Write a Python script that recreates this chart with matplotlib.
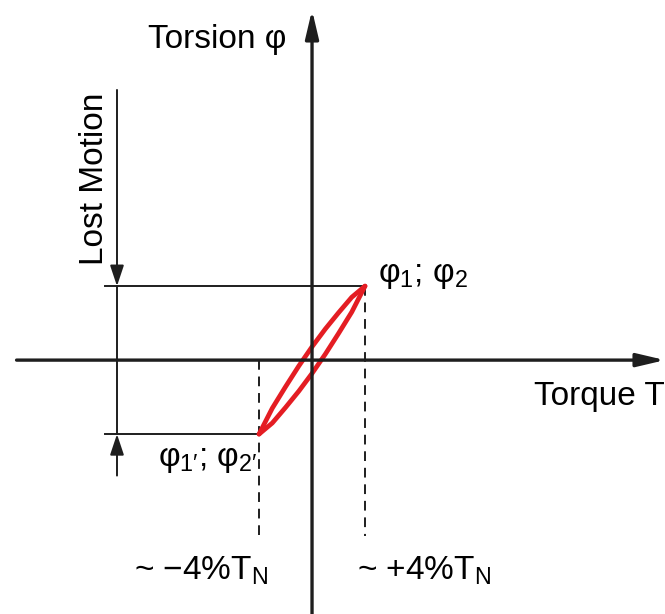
import matplotlib
matplotlib.use("Agg")
import matplotlib.pyplot as plt

plt.rcParams['font.family'] = ['Liberation Sans', 'DejaVu Sans']
plt.rcParams['mathtext.fontset'] = 'custom'
plt.rcParams['mathtext.rm'] = 'Liberation Sans'
plt.rcParams['mathtext.it'] = 'Liberation Sans'
plt.rcParams['mathtext.default'] = 'regular'

# hysteresis loop: torque in % of T_N, torsion in units of phi_1
torque = [-4, -3, -2, -1, 0, 1, 2, 3, 4]
torsion_up = [-1.0, -0.65, -0.36, -0.08, 0.18, 0.42, 0.64, 0.85, 1.0]
torsion_down = [-1.0, -0.85, -0.64, -0.42, -0.18, 0.08, 0.36, 0.65, 1.0]

t_limit = 4        # +-4 % T_N
phi_1 = 1.0        # phi_1; phi_2
phi_1p = -1.0      # phi_1'; phi_2'

ink = '#1e1e1e'
red = '#e41d23'

fig = plt.figure(figsize=(6.65, 6.14), dpi=100)
ax = fig.add_axes([0, 0, 1, 1])
ax.set_xlim(-23.55, 26.64)
ax.set_ylim(-3.43, 4.865)
ax.axis('off')

big_head = '-|>,head_length=0.85,head_width=0.2'
small_head = '-|>,head_length=0.9,head_width=0.3'

# coordinate axes with arrow heads
ax.annotate('', xy=(26.64, 0), xytext=(-22.3, 0),
            arrowprops=dict(arrowstyle=big_head, lw=2.4, color=ink,
                            shrinkA=0, shrinkB=0, mutation_scale=20))
ax.annotate('', xy=(0, 4.73), xytext=(0, -3.5),
            arrowprops=dict(arrowstyle=big_head, lw=2.4, color=ink,
                            shrinkA=0, shrinkB=0, mutation_scale=20))

# extension lines to the loop end points
x_dim = -14.72
ax.plot([-15.6, t_limit], [phi_1, phi_1], color=ink, lw=1.4)
ax.plot([-15.6, -t_limit], [phi_1p, phi_1p], color=ink, lw=1.4)

# lost motion dimension
ax.plot([x_dim, x_dim], [phi_1, phi_1p], color=ink, lw=1.4)
ax.annotate('', xy=(x_dim, phi_1), xytext=(x_dim, 3.65),
            arrowprops=dict(arrowstyle=small_head, lw=1.4, color=ink,
                            shrinkA=0, shrinkB=0, mutation_scale=14))
ax.annotate('', xy=(x_dim, phi_1p), xytext=(x_dim, -1.56),
            arrowprops=dict(arrowstyle=small_head, lw=1.4, color=ink,
                            shrinkA=0, shrinkB=0, mutation_scale=14))

# dashed drop lines at +-4 % T_N
ax.plot([t_limit, t_limit], [phi_1, -2.37], color=ink, lw=1.4,
        dashes=(5, 3.5))
ax.plot([-t_limit, -t_limit], [0, -2.37], color=ink, lw=1.4,
        dashes=(5, 3.5))

# loop
ax.plot(torque, torsion_up, color=red, lw=3.4, solid_joinstyle='round',
        solid_capstyle='round')
ax.plot(torque, torsion_down, color=red, lw=3.4, solid_joinstyle='round',
        solid_capstyle='round')

fs = 24
ax.text(-12.4, 4.21, 'Torsion φ', fontsize=fs, ha='left', va='baseline',
        color='black')
ax.text(26.6, -0.6, 'Torque T', fontsize=fs, ha='right', va='baseline',
        color='black')
ax.text(-16.4, 2.45, 'Lost Motion', fontsize=fs, rotation=90, ha='center',
        va='center', color='black')
ax.text(5.0, 1.06, 'φ$_{1}$; φ$_{2}$', fontsize=fs, ha='left',
        va='baseline', color='black')
ax.text(-11.6, -1.43, 'φ$_{1\u2032}$; φ$_{2\u2032}$', fontsize=fs,
        ha='left', va='baseline', color='black')
ax.text(-13.4, -2.97, '~ \u22124%T$_{N}$', fontsize=fs, ha='left',
        va='baseline', color='black')
ax.text(3.4, -2.97, '~ +4%T$_{N}$', fontsize=fs, ha='left',
        va='baseline', color='black')

fig.savefig('out.png', dpi=100)
